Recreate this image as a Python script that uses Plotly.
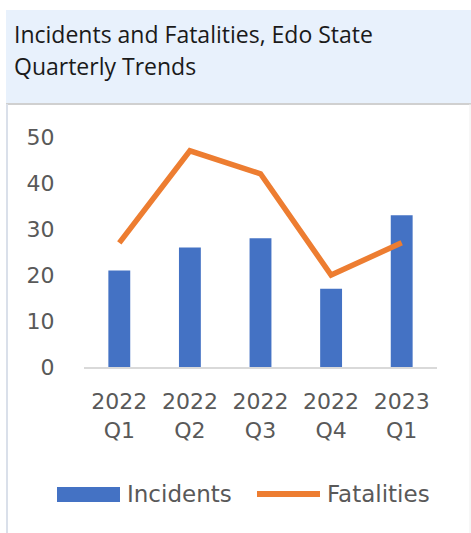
import plotly.graph_objects as go

categories = ["2022<br>Q1", "2022<br>Q2", "2022<br>Q3", "2022<br>Q4", "2023<br>Q1"]
incidents = [21, 26, 28, 17, 33]
fatalities = [27, 47, 42, 20, 27]
y_ticks = [0, 10, 20, 30, 40, 50]

W, H = 471, 533
L, R, T, B = 84, 34, 137, 166
PW = W - L - R
PH = H - T - B

def px(x):
    return (x - L) / PW

def py(y):
    return (H - B - y) / PH

BLUE = "#4472C4"
ORANGE = "#ED7D31"
TXT = "#595959"
FONT = "DejaVu Sans"
TFONT = "Open Sans"

fig = go.Figure()
fig.add_trace(go.Bar(x=categories, y=incidents, name="Incidents",
                     marker=dict(color=BLUE, line=dict(width=0)), showlegend=False))
fig.add_trace(go.Scatter(x=categories, y=fatalities, name="Fatalities", mode="lines",
                         line=dict(color=ORANGE, width=5.5), showlegend=False,
                         cliponaxis=False))

shapes = [
    dict(type="rect", xref="paper", yref="paper", x0=px(6), x1=px(471), y0=py(103), y1=py(10),
         fillcolor="#E8F1FC", line=dict(width=0), layer="below"),
    dict(type="line", xref="paper", yref="paper", x0=px(6), x1=px(471), y0=py(104), y1=py(104),
         line=dict(color="#D0D0D0", width=2)),
    dict(type="line", xref="paper", yref="paper", x0=px(7), x1=px(7), y0=py(104), y1=py(533),
         line=dict(color="#DAE0EA", width=2)),
    dict(type="line", xref="paper", yref="paper", x0=px(470), x1=px(470), y0=py(104), y1=py(533),
         line=dict(color="#EEEEEE", width=1)),
    # legend keys
    dict(type="rect", xref="paper", yref="paper", x0=px(57), x1=px(120), y0=py(502), y1=py(487),
         fillcolor=BLUE, line=dict(width=0)),
    dict(type="line", xref="paper", yref="paper", x0=px(257), x1=px(320), y0=py(494), y1=py(494),
         line=dict(color=ORANGE, width=6)),
]

annotations = [
    dict(text="Incidents and Fatalities, Edo State", xref="paper", yref="paper",
         x=px(12), y=py(34), xanchor="left", yanchor="middle", showarrow=False,
         font=dict(family=TFONT, size=23, color="#1A1A1A")),
    dict(text="Quarterly Trends", xref="paper", yref="paper",
         x=px(12), y=py(66), xanchor="left", yanchor="middle", showarrow=False,
         font=dict(family=TFONT, size=23, color="#1A1A1A")),
    dict(text="Incidents", xref="paper", yref="paper",
         x=px(125), y=py(494), xanchor="left", yanchor="middle", showarrow=False,
         font=dict(family=FONT, size=23, color=TXT)),
    dict(text="Fatalities", xref="paper", yref="paper",
         x=px(325), y=py(494), xanchor="left", yanchor="middle", showarrow=False,
         font=dict(family=FONT, size=23, color=TXT)),
]

fig.update_layout(
    width=W, height=H,
    margin=dict(l=L, r=R, t=T, b=B, pad=0),
    paper_bgcolor="white", plot_bgcolor="white",
    bargap=0.69,
    shapes=shapes, annotations=annotations,
    xaxis=dict(showgrid=False, showline=True, linecolor="#D9D9D9", linewidth=2,
               ticks="outside", ticklen=14, tickcolor="rgba(0,0,0,0)",
               tickfont=dict(family=FONT, size=22, color=TXT), zeroline=False),
    yaxis=dict(range=[0, 50], tickvals=y_ticks, showgrid=False, showline=False, zeroline=False,
               ticks="outside", ticklen=24, tickcolor="rgba(0,0,0,0)",
               tickfont=dict(family=FONT, size=22, color=TXT)),
)

fig.write_html("out.html")
